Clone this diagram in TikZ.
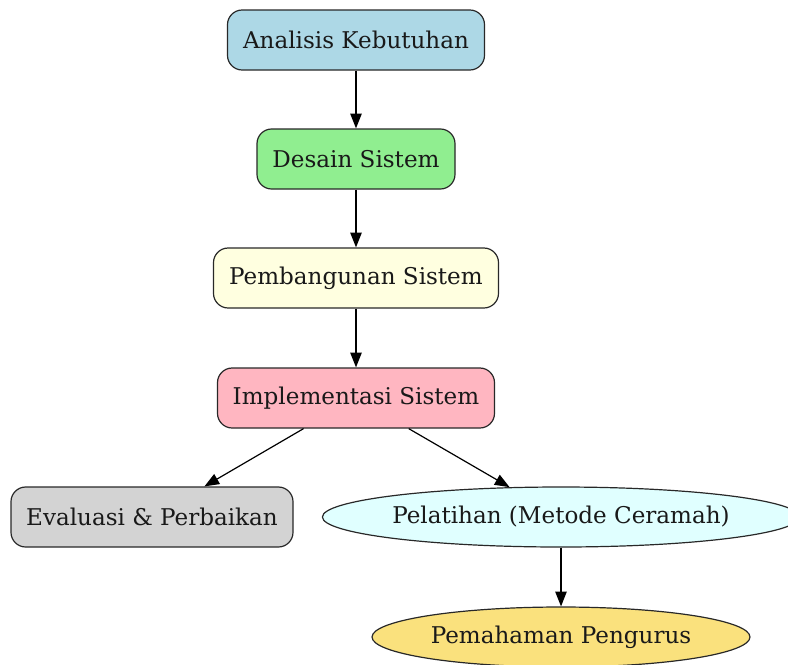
\documentclass[tikz,border=0pt]{standalone}
\usepackage{fontspec}
\setmainfont{DejaVu Serif}
\usetikzlibrary{arrows.meta,shapes.geometric}
\definecolor{cblue}{RGB}{173,216,230}
\definecolor{cgreen}{RGB}{144,238,144}
\definecolor{cyellow}{RGB}{255,255,224}
\definecolor{cpink}{RGB}{255,182,193}
\definecolor{cgrey}{RGB}{211,211,211}
\definecolor{ccyan}{RGB}{224,255,255}
\definecolor{cgold}{RGB}{250,225,125}
\definecolor{cline}{RGB}{40,40,40}
\definecolor{ctext}{RGB}{25,25,25}
\tikzset{
  box/.style={draw=cline, line width=0.9pt, rounded corners=11pt, minimum height=45pt, inner sep=0pt, text=ctext, font=\fontsize{17.3}{20}\selectfont},
  oval/.style={ellipse, draw=cline, line width=0.9pt, inner sep=0pt, text=ctext, font=\fontsize{17.3}{20}\selectfont},
  arr/.style={-{Triangle[length=11pt,width=8.5pt]}, line width=0.9pt, black},
}
\begin{document}
\begin{tikzpicture}[x=0.75pt,y=-0.75pt]
\useasboundingbox (0,0) rectangle (788,664);
\clip (0,0) rectangle (788,664);
\node[box, fill=cblue, minimum width=192.75pt] (a) at (356,40) {Analisis Kebutuhan};
\node[box, fill=cgreen, minimum width=148.5pt] (d) at (356,159) {Desain Sistem};
\node[box, fill=cyellow, minimum width=213.75pt] (p) at (356,278) {Pembangunan Sistem};
\node[box, fill=cpink, minimum width=207.75pt] (i) at (356,398) {Implementasi Sistem};
\node[box, fill=cgrey, minimum width=211.5pt] (e) at (152,517) {Evaluasi \& Perbaikan};
\node[oval, fill=ccyan, minimum width=357pt, minimum height=45pt] (l) at (561,517) {Pelatihan (Metode Ceramah)};
\node[oval, fill=cgold, minimum width=283.5pt, minimum height=45pt] (m) at (561,637) {Pemahaman Pengurus};
\draw[arr] (a) -- (d);
\draw[arr] (d) -- (p);
\draw[arr] (p) -- (i);
\draw[arr] (i) -- (e);
\draw[arr] (i) -- (l);
\draw[arr] (l) -- (m);
\end{tikzpicture}
\end{document}
